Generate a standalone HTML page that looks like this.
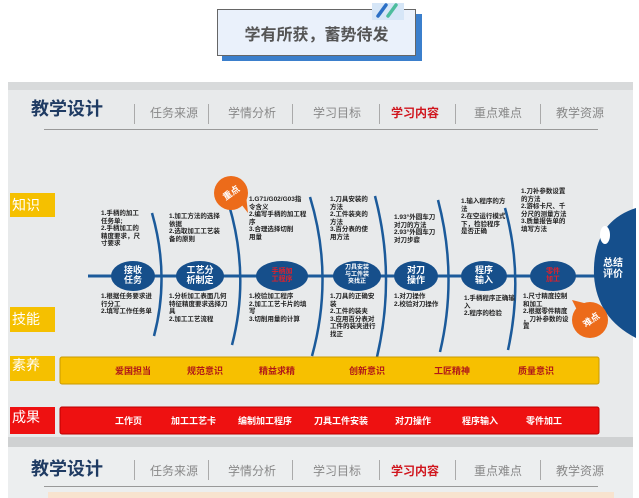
<!DOCTYPE html>
<html><head><meta charset="utf-8"><style>
body{margin:0;width:639px;height:498px;background:#fff;position:relative;overflow:hidden;font-family:"Liberation Sans","Noto Sans CJK SC",sans-serif}
.a{position:absolute}
.t{position:absolute;font-size:6.5px;line-height:7.5px;font-weight:bold;color:#222;white-space:nowrap}
.nav{position:absolute;font-size:12px;color:#888}
.lab{position:absolute;color:#fff;font-size:14px;line-height:24px;padding-left:2px}
</style></head><body>
<div class="a" style="left:222px;top:14px;width:200px;height:47px;background:#3b7fcc"></div>
<div class="a" style="left:217px;top:9px;width:197px;height:45px;background:#eaf1fb;border:1px solid #666"></div>
<div class="a" style="left:217px;top:21px;width:199px;text-align:center;font-size:16px;color:#555;font-weight:bold">学有所获，蓄势待发</div>
<div class="a" style="left:372px;top:3px;width:32px;height:17px;background:#d6e6f7"></div>
<svg class="a" style="left:372px;top:1px" width="34" height="20"><line x1="6" y1="15" x2="14" y2="4" stroke="#2a6fc6" stroke-width="3.5" stroke-linecap="round"/><line x1="16" y1="15" x2="24" y2="4" stroke="#4dbd9d" stroke-width="3.5" stroke-linecap="round"/></svg>

<div class="a" style="left:8px;top:82px;width:625px;height:362px;background:#e8eaeb"></div>
<div class="a" style="left:8px;top:82px;width:625px;height:8px;background:#d8dadb"></div>
<div class="a" style="left:8px;top:437px;width:625px;height:10px;background:#cfd1d2"></div>
<div class="a" style="left:8px;top:447px;width:625px;height:51px;background:#eceeef"></div>

<!-- headers -->
<div class="a" style="left:31px;top:95px;font-size:18px;font-weight:bold;color:#1f3b63">教学设计</div>
<div class="a" style="left:134px;top:104px;width:1px;height:20px;background:#aaa"></div>
<div class="nav" style="left:150px;top:104px">任务来源</div>
<div class="a" style="left:208px;top:104px;width:1px;height:20px;background:#aaa"></div>
<div class="nav" style="left:228px;top:104px">学情分析</div>
<div class="a" style="left:292px;top:104px;width:1px;height:20px;background:#aaa"></div>
<div class="nav" style="left:313px;top:104px">学习目标</div>
<div class="a" style="left:379px;top:104px;width:1px;height:20px;background:#aaa"></div>
<div class="nav" style="left:391px;top:104px;color:#d0161e;font-weight:bold">学习内容</div>
<div class="a" style="left:455px;top:104px;width:1px;height:20px;background:#aaa"></div>
<div class="nav" style="left:474px;top:104px">重点难点</div>
<div class="a" style="left:540px;top:104px;width:1px;height:20px;background:#aaa"></div>
<div class="nav" style="left:556px;top:104px">教学资源</div>
<div class="a" style="left:44px;top:129px;width:554px;height:1px;background:#999"></div>

<div class="a" style="left:31px;top:455px;font-size:18px;font-weight:bold;color:#1f3b63">教学设计</div>
<div class="a" style="left:134px;top:460px;width:1px;height:20px;background:#aaa"></div>
<div class="nav" style="left:150px;top:462px">任务来源</div>
<div class="a" style="left:208px;top:460px;width:1px;height:20px;background:#aaa"></div>
<div class="nav" style="left:228px;top:462px">学情分析</div>
<div class="a" style="left:292px;top:460px;width:1px;height:20px;background:#aaa"></div>
<div class="nav" style="left:313px;top:462px">学习目标</div>
<div class="a" style="left:379px;top:460px;width:1px;height:20px;background:#aaa"></div>
<div class="nav" style="left:391px;top:462px;color:#d0161e;font-weight:bold">学习内容</div>
<div class="a" style="left:455px;top:460px;width:1px;height:20px;background:#aaa"></div>
<div class="nav" style="left:474px;top:462px">重点难点</div>
<div class="a" style="left:540px;top:460px;width:1px;height:20px;background:#aaa"></div>
<div class="nav" style="left:556px;top:462px">教学资源</div>
<div class="a" style="left:44px;top:486px;width:554px;height:1px;background:#999"></div>
<div class="a" style="left:48px;top:492px;width:566px;height:6px;background:#f8e3cf"></div>

<!-- side labels -->
<div class="lab" style="left:10px;top:193px;width:43px;height:24px;background:#f5c000">知识</div>
<div class="lab" style="left:10px;top:307px;width:43px;height:25px;background:#f5c000">技能</div>
<div class="lab" style="left:10px;top:356px;width:43px;height:25px;background:#f5c000;line-height:18px">素养</div>
<div class="lab" style="left:10px;top:407px;width:43px;height:27px;background:#ee1111;line-height:20px">成果</div>

<svg class="a" style="left:0;top:0" width="639" height="498">
<g fill="none" stroke="#1b5a9a" stroke-width="2.5">
<line x1="88" y1="276" x2="600" y2="276" stroke-width="3"/>
<path d="M152,213 Q170,276 154,336"/>
<path d="M229,205 Q250,276 232,345"/>
<path d="M310,197 Q334,276 312,356"/>
<path d="M375,196 Q396,276 377,357"/>
<path d="M438,200 Q458,276 440,352"/>
<path d="M505,208 Q524,276 508,350"/>
</g>
<path d="M636,208 Q592,222 594,276 Q597,318 636,338 Z" fill="#154f8c"/>
<ellipse cx="605" cy="235" rx="5" ry="9" fill="#fff"/>
<g fill="#164f8b">
<ellipse cx="133" cy="276" rx="22" ry="15"/>
<ellipse cx="200" cy="276" rx="24" ry="15"/>
<ellipse cx="282" cy="276" rx="26" ry="15"/>
<ellipse cx="357" cy="276" rx="24" ry="15"/>
<ellipse cx="416" cy="276" rx="22" ry="15"/>
<ellipse cx="484" cy="276" rx="23" ry="15"/>
<ellipse cx="553" cy="276" rx="23" ry="15"/>
</g>
<g fill="#ec6b1a">
<circle cx="231" cy="193" r="17"/><path d="M238,200 L248,213 L246,195Z"/>
<circle cx="590" cy="320" r="18"/><path d="M578,312 L572,300 L588,304Z"/>
</g>
<rect x="60" y="357" width="539" height="27" rx="2" fill="#f7c000" stroke="#c99a00"/>
<rect x="60" y="407" width="539" height="27" rx="2" fill="#ee1111" stroke="#b00"/>
</svg>

<div class="a" style="left:222px;top:186px;color:#fff;font-size:9px;font-weight:bold;transform:rotate(-35deg)">重点</div>
<div class="a" style="left:582px;top:313px;color:#fff;font-size:9px;font-weight:bold;transform:rotate(-35deg)">难点</div>
<div class="a" style="left:603px;top:258px;color:#fff;font-size:10px;font-weight:bold;line-height:11px">总结<br>评价</div>

<!-- node labels -->
<div class="a" style="left:113px;top:265px;width:40px;text-align:center;color:#fff;font-size:9px;line-height:10px;font-weight:bold">接收<br>任务</div>
<div class="a" style="left:178px;top:265px;width:44px;text-align:center;color:#fff;font-size:9px;line-height:10px;font-weight:bold">工艺分<br>析制定</div>
<div class="a" style="left:258px;top:268px;width:48px;text-align:center;color:#e0202a;font-size:7px;line-height:8px;font-weight:bold">手柄加<br>工程序</div>
<div class="a" style="left:335px;top:265px;width:44px;text-align:center;color:#fff;font-size:6px;line-height:7px;font-weight:bold">刀具安装<br>与工件装<br>夹找正</div>
<div class="a" style="left:396px;top:265px;width:40px;text-align:center;color:#fff;font-size:9px;line-height:10px;font-weight:bold">对刀<br>操作</div>
<div class="a" style="left:464px;top:265px;width:40px;text-align:center;color:#fff;font-size:9px;line-height:10px;font-weight:bold">程序<br>输入</div>
<div class="a" style="left:533px;top:268px;width:40px;text-align:center;color:#e0202a;font-size:7px;line-height:8px;font-weight:bold">零件<br>加工</div>

<!-- knowledge text -->
<div class="t" style="left:101px;top:210px">1.手柄的加工<br>任务单;<br>2.手柄加工的<br>精度要求，尺<br>寸要求</div>
<div class="t" style="left:169px;top:213px">1.加工方法的选择<br>依据<br>2.选取加工工艺装<br>备的原则</div>
<div class="t" style="left:249px;top:196px">1.G71/G02/G03指<br>令含义<br>2.编写手柄的加工程<br>序<br>3.合理选择切削<br>用量</div>
<div class="t" style="left:330px;top:196px">1.刀具安装的<br>方法<br>2.工件装夹的<br>方法<br>3.百分表的使<br>用方法</div>
<div class="t" style="left:394px;top:214px">1.93°外圆车刀<br>对刀的方法<br>2.93°外圆车刀<br>对刀步骤</div>
<div class="t" style="left:461px;top:198px">1.输入程序的方<br>法<br>2.在空运行模式<br>下，检验程序<br>是否正确</div>
<div class="t" style="left:521px;top:188px">1.刀补参数设置<br>的方法<br>2.游标卡尺、千<br>分尺的测量方法<br>3.质量报告单的<br>填写方法</div>

<!-- skill text -->
<div class="t" style="left:101px;top:293px">1.根据任务要求进<br>行分工<br>2.填写工作任务单</div>
<div class="t" style="left:169px;top:293px">1.分析加工表面几何<br>特征精度要求选择刀<br>具<br>2.加工工艺流程</div>
<div class="t" style="left:249px;top:293px">1.校验加工程序<br>2.加工工艺卡片的填<br>写<br>3.切削用量的计算</div>
<div class="t" style="left:330px;top:293px">1.刀具的正确安<br>装<br>2.工件的装夹<br>3.应用百分表对<br>工件的装夹进行<br>找正</div>
<div class="t" style="left:394px;top:293px">1.对刀操作<br>2.校验对刀操作</div>
<div class="t" style="left:464px;top:295px">1.手柄程序正确输<br>入<br>2.程序的检验</div>
<div class="t" style="left:523px;top:293px">1.尺寸精度控制<br>和加工<br>2.根据零件精度<br>，刀补参数的设<br>置</div>

<!-- bars -->
<div class="a" style="left:0;top:364px;width:639px;font-size:9px;font-weight:bold;color:#b01818">
<span class="a" style="left:115px">爱国担当</span><span class="a" style="left:187px">规范意识</span><span class="a" style="left:259px">精益求精</span><span class="a" style="left:349px">创新意识</span><span class="a" style="left:434px">工匠精神</span><span class="a" style="left:518px">质量意识</span></div>
<div class="a" style="left:0;top:414px;width:639px;font-size:9px;font-weight:bold;color:#fff">
<span class="a" style="left:115px">工作页</span><span class="a" style="left:171px">加工工艺卡</span><span class="a" style="left:238px">编制加工程序</span><span class="a" style="left:314px">刀具工件安装</span><span class="a" style="left:395px">对刀操作</span><span class="a" style="left:462px">程序输入</span><span class="a" style="left:526px">零件加工</span></div>
</body></html>
